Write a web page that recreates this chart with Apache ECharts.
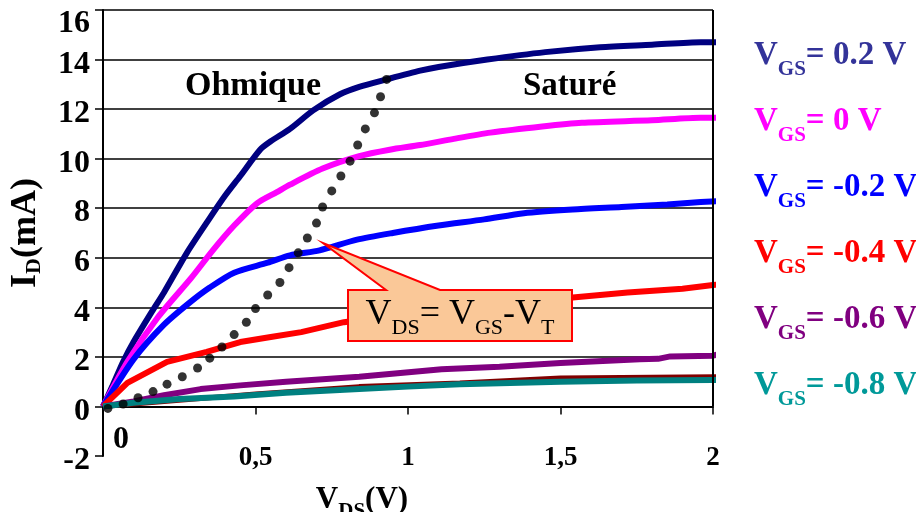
<!DOCTYPE html>
<html><head><meta charset="utf-8">
<script src="https://cdn.jsdelivr.net/npm/echarts@6/dist/echarts.min.js"></script>
<style>html,body{margin:0;padding:0;background:#fff}#c{width:916px;height:512px}</style>
</head><body><div id="c"></div>
<script>
const FONT = 'Liberation Serif';

// ---- data ----
const vgsLabels = ['0.2', '0', '-0.2', '-0.4', '-0.6', '-0.8'];
const xTickLabels = ['0', '0,5', '1', '1,5', '2'];

const vds_p02 = [0, 0.03, 0.066, 0.1, 0.164, 0.2, 0.275, 0.35, 0.4, 0.45, 0.515, 0.55, 0.613, 0.689, 0.777, 0.84, 0.93, 1.04, 1.1, 1.26, 1.45, 1.63, 1.8, 1.96, 2.035];
const id_p02  = [0, 0.8, 1.8, 2.6, 3.9, 4.6, 6.2, 7.6, 8.5, 9.3, 10.36, 10.7, 11.2, 11.95, 12.6, 12.9, 13.2, 13.55, 13.7, 14.0, 14.3, 14.5, 14.6, 14.7, 14.7];

const vds_0 = [0, 0.08, 0.18, 0.29, 0.36, 0.43, 0.505, 0.57, 0.613, 0.72, 0.84, 0.94, 1.04, 1.15, 1.27, 1.44, 1.57, 1.8, 1.96, 2.035];
const id_0  = [0, 1.8, 3.6, 5.2, 6.3, 7.3, 8.2, 8.65, 8.95, 9.6, 10.1, 10.36, 10.55, 10.8, 11.05, 11.3, 11.45, 11.55, 11.65, 11.65];

const vds_m02 = [0, 0.1, 0.2, 0.285, 0.35, 0.43, 0.54, 0.613, 0.71, 0.833, 0.95, 1.1, 1.25, 1.38, 1.54, 1.7, 1.85, 1.96, 2.035];
const id_m02  = [0, 1.9, 3.3, 4.2, 4.8, 5.4, 5.8, 6.1, 6.3, 6.73, 7.0, 7.3, 7.55, 7.8, 7.95, 8.05, 8.15, 8.25, 8.3];

const vds_m04 = [0, 0.08, 0.21, 0.34, 0.45, 0.55, 0.65, 0.79, 1.0, 1.2, 1.4, 1.54, 1.72, 1.9, 2.0, 2.035];
const id_m04  = [0, 0.95, 1.8, 2.2, 2.6, 2.8, 3.0, 3.4, 3.75, 4.05, 4.3, 4.4, 4.6, 4.75, 4.9, 4.95];

const vds_m06 = [0, 0.1, 0.2, 0.32, 0.45, 0.6, 0.84, 1.11, 1.3, 1.5, 1.76, 1.82, 1.86, 2.0, 2.035];
const id_m06  = [0, 0.2, 0.45, 0.7, 0.85, 1.0, 1.2, 1.5, 1.6, 1.75, 1.9, 1.92, 2.02, 2.05, 2.17];

const vds_m08 = [0, 0.1, 0.25, 0.43, 0.6, 0.84, 1.0, 1.17, 1.5, 1.75, 2.0, 2.035];
const id_m08  = [0, 0.15, 0.3, 0.4, 0.55, 0.7, 0.8, 0.9, 1.0, 1.05, 1.07, 1.07];

const vds_dark = [0, 0.5, 0.84, 1.17, 1.5, 1.8, 2.035];
const id_dark  = [0, 0.5, 0.8, 0.95, 1.15, 1.18, 1.2];

const vds_sat = [0.016, 0.066, 0.115, 0.164, 0.21, 0.26, 0.31, 0.35, 0.39, 0.43, 0.47, 0.50, 0.54, 0.58, 0.61, 0.64, 0.67, 0.70, 0.72, 0.75, 0.78, 0.81, 0.835, 0.86, 0.89, 0.91, 0.93];
const id_sat  = [-0.08, 0.1, 0.35, 0.6, 0.9, 1.2, 1.55, 1.95, 2.4, 2.9, 3.4, 3.95, 4.5, 5.0, 5.6, 6.2, 6.8, 7.4, 8.05, 8.7, 9.3, 9.9, 10.55, 11.2, 11.85, 12.5, 13.2];

// ---- styling ----
const lineColors = ['#000080', '#FF00FF', '#0000FF', '#FF0000', '#800080', '#008080'];
const textColors = ['#333399', '#FF00FF', '#0000FF', '#FF0000', '#800080', '#009999'];
const curves = [[vds_p02, id_p02], [vds_0, id_0], [vds_m02, id_m02], [vds_m04, id_m04], [vds_m06, id_m06], [vds_m08, id_m08]];
const zip = (xs, ys) => xs.map((x, i) => [x, ys[i]]);

const series = [];
series.push({
  type: 'line', name: 'dark', data: zip(vds_dark, id_dark), showSymbol: false, clip: false,
  lineStyle: { color: '#800000', width: 5 }, z: 2, silent: true
});
curves.forEach((c, i) => {
  const s = {
    type: 'line', name: vgsLabels[i], data: zip(c[0], c[1]), showSymbol: false, clip: false,
    smooth: i < 3 ? 0.25 : false,
    lineStyle: { color: lineColors[i], width: 6 }, itemStyle: { color: lineColors[i] },
    z: 3, silent: true
  };
  if (i === 0) {
    s.markLine = {
      silent: true, symbol: ['none', 'none'], label: { show: false },
      lineStyle: { color: '#000', width: 2, type: 'solid' },
      data: [[{ coord: [2, 0] }, { coord: [2, 16] }]]
    };
  }
  series.push(s);
});
series.push({
  type: 'scatter', name: 'sat', data: zip(vds_sat, id_sat), symbolSize: 9,
  itemStyle: { color: '#000' }, z: 5, silent: true
});

const legendRich = {};
textColors.forEach((col, i) => {
  legendRich['m' + i] = { color: col, fontFamily: FONT, fontWeight: 'bold', fontSize: 33, lineHeight: 33, verticalAlign: 'top' };
  legendRich['s' + i] = { color: col, fontFamily: FONT, fontWeight: 'bold', fontSize: 21, lineHeight: 21, verticalAlign: 'top', padding: [20, 0, 0, 0] };
});

const chart = echarts.init(document.getElementById('c'), null, { renderer: 'canvas' });
chart.setOption({
  animation: false,
  backgroundColor: '#fff',
  grid: { left: 103, top: 10, right: 203, bottom: 56, containLabel: false, outerBoundsMode: 'none' },
  legend: {
    orient: 'vertical', left: 744, top: 34, itemGap: 25, itemWidth: 0, itemHeight: 0,
    selectedMode: false, icon: 'rect',
    data: vgsLabels,
    formatter: (name) => {
      const i = vgsLabels.indexOf(name);
      return '{m' + i + '|V}{s' + i + '|GS}{m' + i + '|= ' + name + ' V}';
    },
    textStyle: { rich: legendRich }
  },
  xAxis: {
    type: 'value', min: 0, max: 2, interval: 0.5,
    axisLine: { onZero: true, lineStyle: { color: '#000', width: 2 } },
    axisTick: { show: true, inside: false, length: 8, lineStyle: { color: '#000', width: 1.5 } },
    splitLine: { show: false },
    axisLabel: {
      margin: -11, color: '#000', fontFamily: FONT, fontWeight: 'bold', fontSize: 27,
      formatter: (v) => { const i = Math.round(v / 0.5); return i === 0 ? '' : xTickLabels[i]; }
    },
    name: '{v|V}{s|DS}{v|(V)}', nameLocation: 'middle', nameGap: 28, nameMoveOverlap: false,
    nameTextStyle: {
      padding: [0, 92, 0, 0],
      rich: {
        v: { fontFamily: FONT, fontWeight: 'bold', fontSize: 31, lineHeight: 31, verticalAlign: 'top', color: '#000' },
        s: { fontFamily: FONT, fontWeight: 'bold', fontSize: 21, lineHeight: 21, verticalAlign: 'top', padding: [17, 0, 0, 0], color: '#000' }
      }
    }
  },
  yAxis: {
    type: 'value', min: -2, max: 16, interval: 2,
    axisLine: { show: true, onZero: false, lineStyle: { color: '#000', width: 2 } },
    axisTick: { show: true, inside: false, length: 8, lineStyle: { color: '#000', width: 1.5 } },
    splitLine: { show: true, lineStyle: { color: ['rgba(0,0,0,0)', '#000', '#000', '#000', '#000', '#000', '#000', '#000', '#000', '#000'], width: 1.5 } },
    axisLabel: {
      margin: 13, color: '#000', fontFamily: FONT, fontWeight: 'bold', fontSize: 32, padding: [10, 0, 0, 0],
      formatter: (v) => (v === 16 ? '{t|16}' : String(v)),
      rich: { t: { fontFamily: FONT, fontWeight: 'bold', fontSize: 32, color: '#000', padding: [18, 0, 0, 0] } }
    },
    name: '{v|I}{s|D}{v|(mA)}', nameLocation: 'middle', nameRotate: 90, nameGap: 59,
    nameTextStyle: {
      rich: {
        v: { fontFamily: FONT, fontWeight: 'bold', fontSize: 36, lineHeight: 36, verticalAlign: 'top', color: '#000' },
        s: { fontFamily: FONT, fontWeight: 'bold', fontSize: 22, lineHeight: 22, verticalAlign: 'top', padding: [15, 0, 0, 0], color: '#000' }
      }
    }
  },
  series: series
});

// annotations
const p0 = chart.convertToPixel({ gridIndex: 0 }, [0, -1.35]);
chart.setOption({
  graphic: [
    { type: 'text', left: p0[0] + 10, top: p0[1] - 16, z: 10,
      style: { text: xTickLabels[0], font: 'bold 32px "Liberation Serif"', fill: '#000' } },
    { type: 'text', x: 185, y: 86, z: 10,
      style: { text: 'Ohmique', font: 'bold 34px "Liberation Serif"', fill: '#000', verticalAlign: 'middle', align: 'left' } },
    { type: 'text', x: 523, y: 86, z: 10,
      style: { text: 'Saturé', font: 'bold 33px "Liberation Serif"', fill: '#000', verticalAlign: 'middle', align: 'left' } },
    { type: 'polygon', z: 20,
      shape: { points: [[348, 290], [386, 290], [323, 243], [440, 290], [572, 290], [572, 341], [348, 341]] },
      style: { fill: '#FAC898', stroke: '#FF0000', lineWidth: 2 } },
    { type: 'text', x: 460, y: 297, z: 21,
      style: {
        text: '{m|V}{s|DS}{m|= V}{s|GS}{m|-V}{s|T}', align: 'center', verticalAlign: 'top',
        rich: {
          m: { fontFamily: FONT, fontSize: 36, lineHeight: 36, verticalAlign: 'top', fill: '#000' },
          s: { fontFamily: FONT, fontSize: 22, lineHeight: 22, verticalAlign: 'top', padding: [20, 0, 0, 0], fill: '#000' }
        }
      } }
  ]
});
</script>
</body></html>
